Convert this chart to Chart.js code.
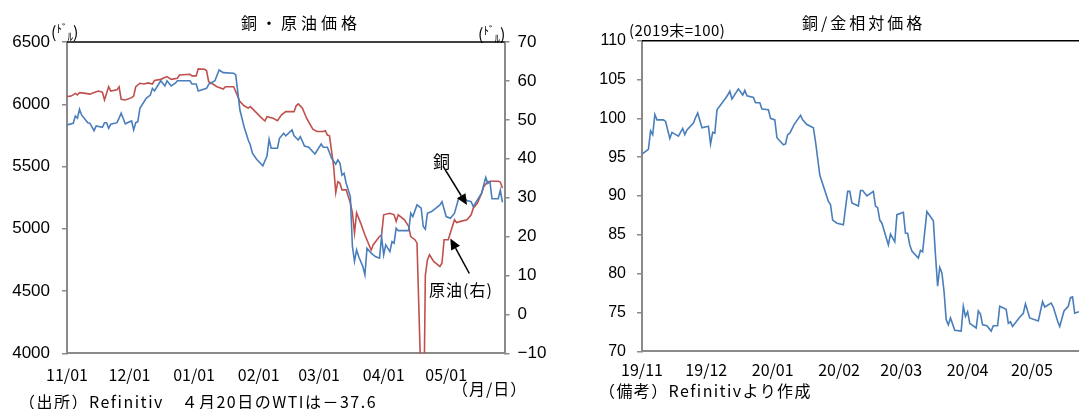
<!DOCTYPE html>
<html>
<head>
<meta charset="utf-8">
<script src="https://cdn.jsdelivr.net/npm/chart.js@4.4.0/dist/chart.umd.min.js"></script>
<style>
  body { margin: 0; width: 1079px; height: 409px; overflow: hidden; background: #fff;
         font-family: "Noto Sans CJK JP", sans-serif; color: #000; position: relative; }
  .box { position: absolute; top: 0; height: 409px; }
  .t { position: absolute; white-space: nowrap; line-height: 1; }
  .up { position: relative; top: -5px; font-size: 11px; }
  .dn { position: relative; top: 3px; font-size: 11px; }
</style>
</head>
<body>
<div class="box" style="left:0;width:560px"><canvas id="left" width="560" height="409"></canvas></div>
<div class="box" style="left:560px;width:519px"><canvas id="right" width="519" height="409"></canvas></div>

<div class="t" style="left:241px;top:14px;font-size:16px;letter-spacing:4px">銅・原油価格</div>
<div class="t" style="left:51px;top:23px;font-size:16px">(<span class="up">ﾄﾞ</span><span class="dn">ﾙ</span>)</div>
<div class="t" style="left:478px;top:25px;font-size:16px">(<span class="up">ﾄﾞ</span><span class="dn">ﾙ</span>)</div>
<div class="t" style="left:433px;top:152px;font-size:17px">銅</div>
<div class="t" style="left:429px;top:281px;font-size:16px;letter-spacing:1px">原油(右)</div>
<div class="t" style="left:452px;top:380px;font-size:16px;letter-spacing:1px">（月/日）</div>
<div class="t" style="left:19px;top:393px;font-size:16px;letter-spacing:1.5px">（出所）Refinitiv　４月20日のWTIは－37.6</div>

<div class="t" style="left:802px;top:14px;font-size:16px;letter-spacing:3px">銅/金相対価格</div>
<div class="t" style="left:629px;top:22px;font-size:15px;letter-spacing:0.4px">(2019末=100)</div>
<div class="t" style="left:599px;top:382px;font-size:16px;letter-spacing:1.4px">（備考）Refinitivより作成</div>

<script>
// days counted from 2019/11/01
const leftTickDays = [0, 30, 61, 92, 121, 152, 182];
const leftTickLabels = ["11/01", "12/01", "01/01", "02/01", "03/01", "04/01", "05/01"];
const rightTickLabels = ["19/11", "19/12", "20/01", "20/02", "20/03", "20/04", "20/05"];

const copperDays = [0, 3, 4, 5, 6, 7, 10, 11, 13, 14, 17, 18, 19, 20, 21, 24, 25, 26, 28, 29, 31, 32, 33, 34, 35, 38, 40, 41, 42, 45, 47, 48, 50, 52, 53, 59, 60, 62, 63, 67, 68, 71, 73, 75, 80, 81, 83, 85, 87, 88, 89, 91, 94, 96, 97, 98, 101, 102, 104, 105, 108, 109, 111, 112, 114, 116, 119, 122, 123, 125, 127, 129, 130, 131, 132, 133, 134, 136, 137, 138, 139, 140, 142, 143, 144, 146, 148, 150, 151, 152, 153, 155, 156, 157, 158, 159, 164, 165, 166, 168, 170, 171, 172, 173, 175, 179, 180, 182, 184, 186, 188, 190, 192, 194, 195, 197, 199, 201, 202, 203, 204, 207, 208, 209];
const copperValues = [5834, 5847, 5906, 5888, 5960, 5914, 5852, 5847, 5788, 5826, 5815, 5852, 5852, 5807, 5839, 5852, 5888, 5928, 5842, 5852, 5866, 5794, 5852, 5860, 5968, 6048, 6074, 6128, 6107, 6189, 6147, 6189, 6147, 6169, 6189, 6189, 6163, 6163, 6107, 6128, 6160, 6189, 6275, 6254, 6249, 6235, 5954, 5820, 5713, 5673, 5607, 5559, 5505, 5585, 5719, 5647, 5647, 5727, 5767, 5746, 5794, 5746, 5713, 5740, 5665, 5655, 5601, 5681, 5655, 5655, 5567, 5519, 5553, 5527, 5430, 5446, 5366, 5259, 4859, 4739, 4831, 4777, 4697, 4630, 4844, 4804, 4777, 4764, 4937, 4790, 4871, 4817, 4897, 4884, 5005, 4985, 4985, 5125, 5098, 5192, 5165, 5018, 4997, 5125, 5138, 5192, 5218, 5098, 5085, 5125, 5245, 5259, 5226, 5218, 5178, 5232, 5286, 5412, 5365, 5379, 5241, 5241, 5310, 5213];

const oilDays = [0, 2, 4, 5, 6, 9, 11, 13, 15, 17, 18, 20, 21, 24, 25, 26, 28, 31, 32, 33, 35, 37, 39, 41, 42, 45, 48, 50, 53, 54, 59, 60, 62, 63, 66, 67, 68, 70, 72, 75, 76, 80, 81, 83, 85, 87, 88, 91, 93, 95, 96, 99, 101, 103, 105, 109, 110, 111, 113, 115, 118, 120, 123, 124, 125, 126, 128, 129, 130, 131, 132, 134, 136, 137, 138, 139, 141, 143, 144, 146, 147, 150, 151, 152, 155, 157, 158, 159, 162, 164, 165, 167, 168, 171, 172, 173, 174, 176, 179, 180, 181, 183, 184, 186, 187, 189, 192, 194, 195, 197, 199, 200, 202, 204, 207, 208, 209];
const oilValues = [56.0, 56.1, 56.8, 56.4, 57.0, 56.8, 56.6, 57.0, 57.4, 57.1, 55.1, 58.5, 57.4, 57.7, 58.5, 55.3, 55.1, 55.7, 56.1, 58.5, 59.4, 59.2, 59.5, 59.2, 60.1, 60.4, 61.1, 60.4, 60.7, 61.5, 61.7, 61.3, 61.3, 63.1, 63.0, 62.6, 59.8, 59.2, 58.5, 57.9, 58.5, 58.5, 57.2, 54.7, 53.6, 53.0, 53.4, 51.8, 50.7, 49.7, 50.8, 50.4, 49.8, 51.3, 52.1, 52.1, 53.6, 54.1, 53.0, 50.4, 47.6, 47.0, 47.0, 47.2, 46.1, 45.9, 38.0, 31.3, 34.1, 33.7, 32.0, 32.0, 28.6, 26.1, 20.9, 26.1, 23.4, 20.4, 19.1, 16.5, 17.9, 20.0, 20.4, 25.6, 26.0, 25.6, 23.9, 25.6, 24.3, 22.6, 20.0, 19.2, 18.3, -37.6, 10.0, 14.0, 15.3, 13.6, 12.3, 13.2, 19.2, 19.2, 20.9, 24.3, 23.6, 23.9, 24.3, 25.6, 27.3, 28.6, 31.1, 32.8, 34.1, 34.2, 34.2, 34.0, 32.5];

const ratioDays = [0, 3, 4, 5, 6, 7, 10, 11, 13, 14, 17, 19, 20, 21, 24, 25, 26, 28, 31, 32, 33, 34, 35, 39, 40, 41, 42, 45, 47, 48, 49, 52, 53, 55, 56, 59, 60, 62, 63, 66, 67, 68, 69, 71, 74, 75, 77, 80, 81, 83, 85, 87, 88, 89, 91, 94, 96, 97, 98, 101, 102, 103, 105, 108, 109, 110, 111, 112, 115, 116, 118, 119, 122, 123, 124, 125, 126, 129, 130, 131, 133, 136, 137, 138, 139, 140, 141, 142, 143, 144, 146, 149, 150, 151, 152, 153, 156, 157, 158, 159, 161, 163, 164, 166, 167, 170, 171, 172, 173, 176, 178, 179, 181, 185, 187, 188, 191, 192, 194, 195, 197, 199, 200, 201, 202, 204];
const ratioValues = [95.4, 96.0, 98.4, 97.9, 100.5, 99.8, 99.8, 99.6, 97.4, 98.2, 97.7, 98.7, 97.9, 98.5, 99.4, 100.1, 100.7, 98.8, 99.0, 96.7, 98.2, 98.1, 101.1, 102.6, 103.0, 103.5, 102.5, 103.8, 103.0, 103.6, 102.9, 102.7, 102.0, 102.0, 101.2, 101.1, 100.0, 99.8, 97.5, 96.6, 96.7, 97.9, 98.1, 99.2, 100.4, 99.8, 99.2, 98.8, 97.0, 92.7, 91.0, 89.3, 88.9, 86.9, 86.5, 86.3, 90.6, 90.6, 89.1, 88.7, 90.7, 90.7, 90.0, 90.6, 88.7, 88.5, 86.9, 86.5, 83.7, 85.1, 84.1, 87.6, 87.9, 85.2, 85.2, 83.7, 82.9, 82.0, 83.0, 82.8, 88.0, 86.8, 82.4, 78.4, 80.8, 80.1, 77.7, 74.1, 73.4, 74.3, 72.7, 72.6, 75.8, 74.5, 75.1, 73.6, 73.0, 75.2, 74.8, 73.4, 73.3, 72.6, 73.3, 73.3, 75.8, 75.4, 73.6, 73.8, 73.2, 74.3, 74.9, 76.1, 74.3, 73.9, 76.4, 75.7, 76.2, 75.7, 73.9, 73.2, 75.2, 75.8, 76.9, 77.0, 74.9, 75.1];

// arrow tips, in data units, with the tail offset in pixels
const copperArrow = { day: 192, value: 5190, dx: -24, dy: -39 };
const oilArrow = { day: 184, value: 19.5, dx: 19, dy: 35 };

const BLUE = "#4a7ebb";
const RED = "#c0504d";
const AXIS = "#8a8a8a";
const pts = (xs, ys) => xs.map((x, i) => ({ x: x, y: ys[i] }));

function drawArrow(ctx, x0, y0, x1, y1) {
  const a = Math.atan2(y1 - y0, x1 - x0), L = 11, W = 5;
  ctx.save();
  ctx.strokeStyle = "#000"; ctx.fillStyle = "#000"; ctx.lineWidth = 1.5;
  ctx.beginPath(); ctx.moveTo(x0, y0);
  ctx.lineTo(x1 - L * Math.cos(a), y1 - L * Math.sin(a)); ctx.stroke();
  ctx.beginPath(); ctx.moveTo(x1, y1);
  ctx.lineTo(x1 - L * Math.cos(a) + W * Math.sin(a), y1 - L * Math.sin(a) - W * Math.cos(a));
  ctx.lineTo(x1 - L * Math.cos(a) - W * Math.sin(a), y1 - L * Math.sin(a) + W * Math.cos(a));
  ctx.closePath(); ctx.fill();
  ctx.restore();
}

// black top frame line
const topLine = {
  id: "topLine",
  afterDraw(chart) {
    const { ctx, chartArea: a } = chart;
    ctx.save();
    ctx.strokeStyle = "#000"; ctx.lineWidth = 1.5;
    ctx.beginPath(); ctx.moveTo(a.left, a.top); ctx.lineTo(a.right, a.top); ctx.stroke();
    ctx.restore();
  }
};

const arrows = {
  id: "arrows",
  afterDraw(chart) {
    const s = chart.scales;
    [[copperArrow, s.y], [oilArrow, s.y2]].forEach(([ar, ys]) => {
      const x = s.x.getPixelForValue(ar.day), y = ys.getPixelForValue(ar.value);
      drawArrow(chart.ctx, x + ar.dx, y + ar.dy, x, y);
    });
  }
};

const yFont = { family: "Liberation Sans", size: 17 };
const xFont = { family: "Noto Sans CJK JP", size: 16 };

function xAxis(max, labels, height, pad) {
  return {
    type: "linear", min: 0, max: max,
    afterBuildTicks: s => { s.ticks = leftTickDays.map(v => ({ value: v })); },
    afterFit: s => { s.height = height; },
    ticks: { callback: (v, i) => labels[i], font: xFont, color: "#000", padding: pad, maxRotation: 0, autoSkip: false },
    grid: { display: false, drawTicks: false },
    border: { color: AXIS, width: 2 }
  };
}

function yAxis(pos, min, max, step, width, font, pad) {
  return {
    position: pos, min: min, max: max,
    afterFit: s => { s.width = width; },
    ticks: { stepSize: step, font: font, color: "#000", padding: pad,
             callback: v => (v < 0 ? "\u2212" + Math.abs(v) : String(v)) },
    grid: { drawOnChartArea: false, drawTicks: true, tickLength: 5, color: AXIS, lineWidth: 1.5 },
    border: { color: AXIS, width: 2 }
  };
}

new Chart(document.getElementById("left"), {
  type: "line",
  data: {
    datasets: [
      { label: "銅", data: pts(copperDays, copperValues), borderColor: BLUE, yAxisID: "y" },
      { label: "原油", data: pts(oilDays, oilValues), borderColor: RED, yAxisID: "y2" }
    ]
  },
  options: {
    responsive: false, animation: false,
    layout: { padding: { top: 42, left: 0, right: 0, bottom: 0 } },
    elements: { point: { radius: 0 }, line: { borderWidth: 1.6, tension: 0 } },
    scales: {
      x: xAxis(210, leftTickLabels, 55.7, 12),
      y: yAxis("left", 4000, 6500, 500, 67, yFont, 12),
      y2: yAxis("right", -10, 70, 10, 55.5, yFont, 8)
    },
    plugins: { legend: { display: false }, tooltip: { enabled: false } }
  },
  plugins: [topLine, arrows]
});

new Chart(document.getElementById("right"), {
  type: "line",
  data: {
    datasets: [
      { label: "銅/金", data: pts(ratioDays, ratioValues), borderColor: BLUE }
    ]
  },
  options: {
    responsive: false, animation: false,
    layout: { padding: { top: 40.7, left: 0, right: 0, bottom: 0 } },
    elements: { point: { radius: 0 }, line: { borderWidth: 1.6, tension: 0 } },
    scales: {
      x: xAxis(204, rightTickLabels, 57.7, 9),
      y: yAxis("left", 70, 110, 5, 82, { family: "Liberation Sans", size: 16 }, 11)
    },
    plugins: { legend: { display: false }, tooltip: { enabled: false } }
  },
  plugins: [topLine]
});
</script>
</body>
</html>
